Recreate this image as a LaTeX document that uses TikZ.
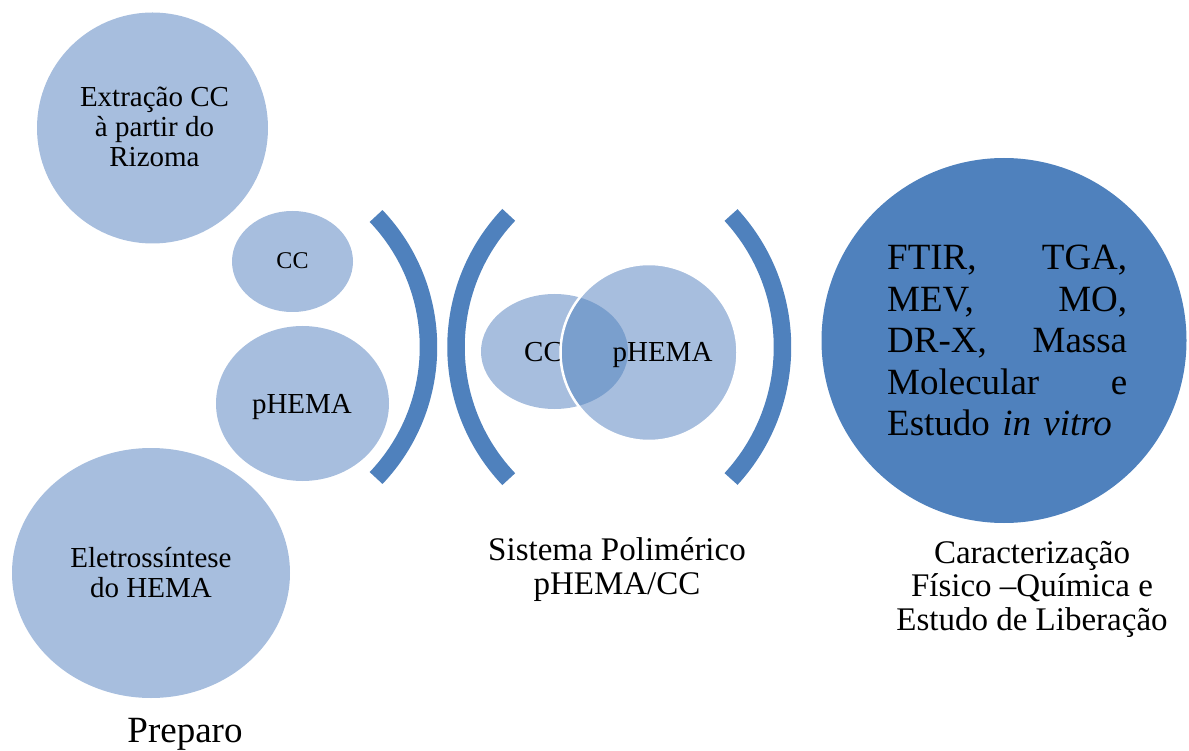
\documentclass[tikz,border=0pt]{standalone}
\usepackage{fontspec}
\setmainfont{Liberation Serif}
\usepackage{tikz}
\usetikzlibrary{positioning}
\definecolor{mlight}{RGB}{167, 190, 222}
\definecolor{mover}{RGB}{122, 159, 205}
\definecolor{mblue}{RGB}{79, 129, 189}
\tikzset{bracket/.style = {draw = mblue, line width = 17.5pt}}
\tikzset{txt/.style = {inner sep = 0, align = center,
                       font = \fontsize{29}{30}\selectfont}}
\tikzset{caption/.style = {inner sep = 0, align = center,
                           font = \fontsize{33}{33.5}\selectfont}}

\begin{document}
\begin{tikzpicture}[x=1pt, y=-1pt]
      \useasboundingbox (0, 0) rectangle (1189, 751);

      \fill [mlight] (152.5, 128) circle [radius=115.5];
      \node [txt, anchor=base] (extracao) at (154.5, 167) {Extração CC\\à partir do\\Rizoma};

      \fill [mlight] (292.5, 261.5) ellipse [x radius=60.5, y radius=50.5];
      \node [txt, anchor=base, font=\fontsize{24}{25}\selectfont] (ccA) at (292.5, 269) {CC};

      \fill [mlight] (302.5, 403.5) ellipse [x radius=86.5, y radius=77.5];
      \node [txt, anchor=base] (phemaA) at (302, 413) {pHEMA};

      \fill [mlight] (151, 573) ellipse [x radius=139, y radius=125];
      \node [txt, anchor=base] (eletro) at (151, 597) {Eletrossíntese\\do HEMA};

      \draw [bracket] (238.5, 347) ++(-43.6:190) arc [start angle=-43.6, end angle=43.6, radius=190];
      \draw [bracket] (648, 347) ++(136.5:192) arc [start angle=136.5, end angle=223.5, radius=192];
      \draw [bracket] (587.5, 347) ++(-42.6:195) arc [start angle=-42.6, end angle=42.6, radius=195];

      \fill [mlight] (554.5, 351.5) ellipse [x radius=73.5, y radius=57.5];
      \node [txt, anchor=base] (ccB) at (543.5, 361) {CC};
      \fill [mlight] (649, 352.5) circle [radius=88.5];
      \begin{scope}
        \clip (649, 352.5) circle [radius=88.5];
        \fill [mover] (554.5, 351.5) ellipse [x radius=73.5, y radius=57.5];
      \end{scope}
      \draw [white, line width=2.5pt] (649, 352.5) circle [radius=88.5];
      \node [txt, anchor=base] (phemaB) at (662.5, 361) {pHEMA};

      \fill [mblue] (1004, 340.5) circle [radius=182.5];
      \node [anchor=base west, inner sep=0, text width=240pt, align=left,
             font=\fontsize{37}{41.5}\selectfont] (tecnicas) at (887, 270)
            {FTIR,\hfill TGA,\\MEV,\hfill MO,\\DR-X,\hfill Massa\\Molecular\hfill e\\Estudo \textit{in vitro}};

      \node [anchor=base, inner sep=0, font=\fontsize{37}{38}\selectfont] (preparo) at (185, 742) {Preparo};
      \node [caption, anchor=base] (sistema) at (617, 594) {Sistema Polimérico\\pHEMA/CC};
      \node [caption, anchor=base] (caract) at (1032, 630) {Caracterização\\Físico –Química e\\Estudo de Liberação};
    \end{tikzpicture}
\end{document}
